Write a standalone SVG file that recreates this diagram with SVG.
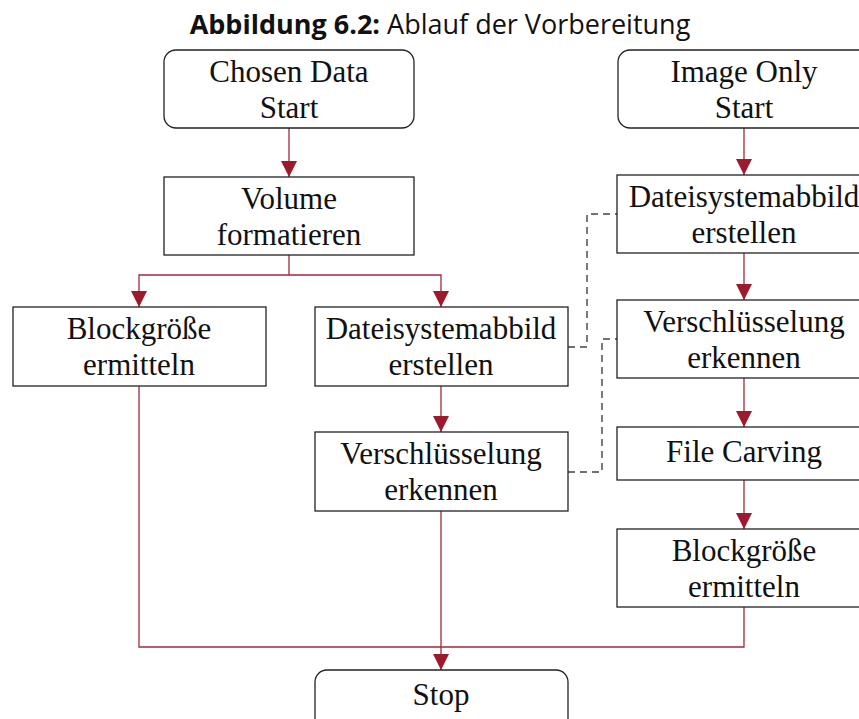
<svg xmlns="http://www.w3.org/2000/svg" width="859" height="719" viewBox="0 0 859 719">
  <style>
    .box { fill: #ffffff; stroke: #222222; stroke-width: 1.3; }
    .lbl { font-family: "Liberation Serif", "Times New Roman", serif; font-size: 31px; fill: #111111; text-anchor: middle; }
    .flow { fill: none; stroke: #a3293a; stroke-width: 1.3; }
    .dash { fill: none; stroke: #444444; stroke-width: 1.4; stroke-dasharray: 7 5; }
    .title { font-family: "Open Sans", "Noto Sans", sans-serif; font-size: 27px; fill: #111111; text-anchor: middle; }
  </style>
  <defs>
    <marker id="arrow" markerUnits="userSpaceOnUse" markerWidth="18" markerHeight="16" refX="16" refY="8" orient="auto">
      <path d="M0,0 L16,8 L0,16 Z" fill="#9b1b2c"/>
    </marker>
  </defs>

  <text class="title" x="440" y="34"><tspan font-weight="bold">Abbildung 6.2:</tspan> Ablauf der Vorbereitung</text>

  <!-- connectors -->
  <g id="connectors">
    <path class="flow" d="M289 128 V177" marker-end="url(#arrow)"/>
    <path class="flow" d="M289 255 V275 H139 V307" marker-end="url(#arrow)"/>
    <path class="flow" d="M289 275 H441 V307" marker-end="url(#arrow)"/>
    <path class="flow" d="M441 386 V432" marker-end="url(#arrow)"/>
    <path class="flow" d="M441 511 V670" marker-end="url(#arrow)"/>
    <path class="flow" d="M139 386 V647 H744 V607"/>
    <path class="flow" d="M744 128 V175" marker-end="url(#arrow)"/>
    <path class="flow" d="M744 253 V300" marker-end="url(#arrow)"/>
    <path class="flow" d="M744 378 V427" marker-end="url(#arrow)"/>
    <path class="flow" d="M744 480 V529" marker-end="url(#arrow)"/>
    <path class="dash" d="M568 347 H587 V214 H617"/>
    <path class="dash" d="M568 472 H602 V339 H617"/>
  </g>

  <!-- left / middle column -->
  <g id="chosen-start">
    <rect class="box" x="164" y="50" width="250" height="78" rx="12"/>
    <text class="lbl" x="289" y="82">Chosen Data</text>
    <text class="lbl" x="289" y="118">Start</text>
  </g>
  <g id="volume">
    <rect class="box" x="164" y="177" width="250" height="78"/>
    <text class="lbl" x="289" y="209">Volume</text>
    <text class="lbl" x="289" y="245">formatieren</text>
  </g>
  <g id="block-left">
    <rect class="box" x="13" y="307" width="253" height="79"/>
    <text class="lbl" x="139" y="339">Blockgröße</text>
    <text class="lbl" x="139" y="375">ermitteln</text>
  </g>
  <g id="image-mid">
    <rect class="box" x="315" y="307" width="253" height="79"/>
    <text class="lbl" x="441" y="339">Dateisystemabbild</text>
    <text class="lbl" x="441" y="375">erstellen</text>
  </g>
  <g id="crypt-mid">
    <rect class="box" x="315" y="432" width="253" height="79"/>
    <text class="lbl" x="441" y="464">Verschlüsselung</text>
    <text class="lbl" x="441" y="500">erkennen</text>
  </g>
  <g id="stop">
    <rect class="box" x="315" y="670" width="253" height="78" rx="12"/>
    <text class="lbl" x="441" y="705">Stop</text>
  </g>

  <!-- right column -->
  <g id="image-start">
    <rect class="box" x="618" y="50" width="253" height="78" rx="12"/>
    <text class="lbl" x="744" y="82">Image Only</text>
    <text class="lbl" x="744" y="118">Start</text>
  </g>
  <g id="image-right">
    <rect class="box" x="617" y="175" width="253" height="78"/>
    <text class="lbl" x="744" y="207">Dateisystemabbild</text>
    <text class="lbl" x="744" y="243">erstellen</text>
  </g>
  <g id="crypt-right">
    <rect class="box" x="617" y="300" width="253" height="78"/>
    <text class="lbl" x="744" y="332">Verschlüsselung</text>
    <text class="lbl" x="744" y="368">erkennen</text>
  </g>
  <g id="carving">
    <rect class="box" x="617" y="427" width="253" height="53"/>
    <text class="lbl" x="744" y="462">File Carving</text>
  </g>
  <g id="block-right">
    <rect class="box" x="617" y="529" width="253" height="78"/>
    <text class="lbl" x="744" y="561">Blockgröße</text>
    <text class="lbl" x="744" y="597">ermitteln</text>
  </g>
</svg>
